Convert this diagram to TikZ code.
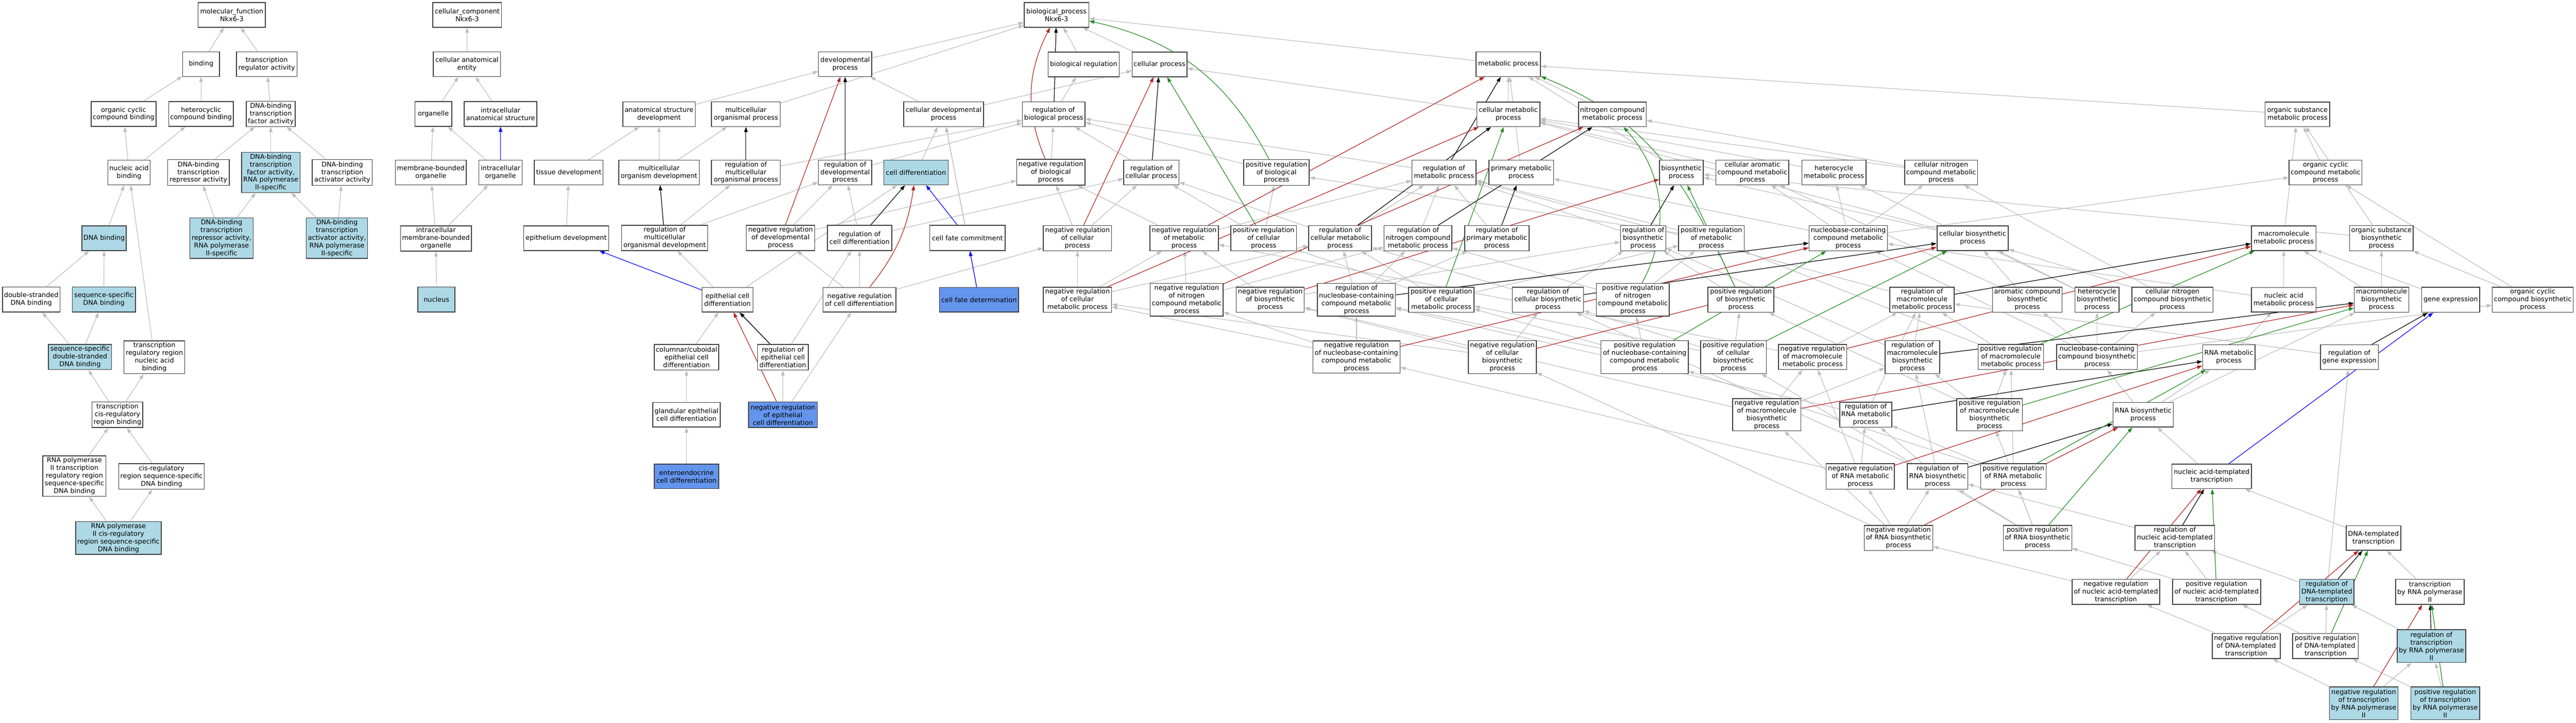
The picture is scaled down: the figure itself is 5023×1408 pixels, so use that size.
\documentclass[tikz,border=0pt]{standalone}
\usepackage{fontspec}
\setmainfont{DejaVu Sans}
\usetikzlibrary{arrows.meta}
\definecolor{ggray}{RGB}{190,190,190}
\definecolor{gored}{RGB}{178,34,34}
\definecolor{gogreen}{RGB}{34,139,34}
\definecolor{lblue}{RGB}{173,216,230}
\definecolor{cblue}{RGB}{100,149,237}
\pgfdeclarelayer{bg}\pgfdeclarelayer{edges}\pgfsetlayers{bg,edges,main}
\tikzset{
 box/.style={draw=black!75, line width=1.5pt, fill=white, inner xsep=3pt, inner ysep=1pt, align=center, font=\fontsize{12.9}{15}\selectfont},
 wh/.style={}, lb/.style={fill=lblue}, cb/.style={fill=cblue},
 goedge/.style={line width=1.2pt, -{Triangle[length=10pt,width=7pt]}},
 isaedge/.style={goedge, draw=ggray},
 regedge/.style={goedge, draw=black},
 negedge/.style={goedge, draw=gored},
 posedge/.style={goedge, draw=gogreen},
 partedge/.style={goedge, draw=blue},
}
\newcommand{\gonode}[7]{\node[box,#6,minimum width=#4pt,minimum height=#5pt] (#1) at (#2,#3) {#7};}
\begin{document}
\begin{tikzpicture}[x=1pt,y=-1pt]
\useasboundingbox (0,0) rectangle (5023,1408);
\begin{pgfonlayer}{bg}\fill[white] (0,0) rectangle (5023,1408);\end{pgfonlayer}
% molecular function
\gonode{mf}{452}{29}{131}{48}{wh}{molecular\_function\\Nkx6-3}
\gonode{bind}{392}{125}{72}{48}{wh}{binding}
\gonode{tra}{520}{125}{118}{48}{wh}{transcription\\regulator activity}
\gonode{occb}{241}{222}{126}{48}{wh}{organic cyclic\\compound binding}
\gonode{hccb}{392}{222}{126}{48}{wh}{heterocyclic\\compound binding}
\gonode{dbtf}{528}{222}{95}{49}{wh}{DNA-binding\\transcription\\factor activity}
\gonode{nab}{251.5}{336}{82}{48}{wh}{nucleic acid\\binding}
\gonode{dbtr}{387}{336}{120}{50}{wh}{DNA-binding\\transcription\\repressor activity}
\gonode{dbtf2}{528}{336}{114}{78}{lb}{DNA-binding\\transcription\\factor activity,\\RNA polymerase\\II-specific}
\gonode{dbta}{667.5}{336}{117}{50}{wh}{DNA-binding\\transcription\\activator activity}
\gonode{dnab}{203}{464}{86}{48}{lb}{DNA binding}
\gonode{dbtr2}{432}{464}{124}{79}{lb}{DNA-binding\\transcription\\repressor activity,\\RNA polymerase\\II-specific}
\gonode{dbta2}{657}{464}{120}{79}{lb}{DNA-binding\\transcription\\activator activity,\\RNA polymerase\\II-specific}
\gonode{dsdna}{61}{583.5}{112}{49}{wh}{double-stranded\\DNA binding}
\gonode{ssdna}{202.5}{583.5}{123}{49}{lb}{sequence-specific\\DNA binding}
\gonode{ssds}{156}{695.5}{123}{49}{lb}{sequence-specific\\double-stranded\\DNA binding}
\gonode{trrnab}{301}{696}{118.5}{64}{wh}{transcription\\regulatory region\\nucleic acid\\binding}
\gonode{tcrrb}{229}{808}{99}{50}{wh}{transcription\\cis-regulatory\\region binding}
\gonode{rp2trr}{145}{927.5}{123}{79}{wh}{RNA polymerase\\II transcription\\regulatory region\\sequence-specific\\DNA binding}
\gonode{crrss}{315}{928}{166}{50}{wh}{cis-regulatory\\region sequence-specific\\DNA binding}
\gonode{rp2crr}{231}{1048}{166}{64}{lb}{RNA polymerase\\II cis-regulatory\\region sequence-specific\\DNA binding}
% cellular component
\gonode{cc}{911}{29}{134}{48}{wh}{cellular\_component\\Nkx6-3}
\gonode{cae}{910.5}{125}{131}{48}{wh}{cellular anatomical\\entity}
\gonode{org}{845}{222}{72}{48}{wh}{organelle}
\gonode{ias}{976}{222}{142}{48}{wh}{intracellular\\anatomical structure}
\gonode{mbo}{840}{336}{138}{48}{wh}{membrane-bounded\\organelle}
\gonode{io}{976}{336}{84}{48}{wh}{intracellular\\organelle}
\gonode{imbo}{850}{464.5}{137.5}{49}{wh}{intracellular\\membrane-bounded\\organelle}
\gonode{nuc}{851}{583.5}{72.5}{49}{lb}{nucleus}
% biological process
\gonode{td}{1109}{336}{134}{48}{wh}{tissue development}
\gonode{ed}{1104}{464}{166}{48}{wh}{epithelium development}
\gonode{bp}{2060}{29}{126}{48}{wh}{biological\_process\\Nkx6-3}
\gonode{dev}{1648}{125}{104}{48}{wh}{developmental\\process}
\gonode{breg}{2113}{125.5}{138.7}{48}{wh}{biological regulation}
\gonode{cp}{2261}{125.5}{107}{48}{wh}{cellular process}
\gonode{mp}{2941}{125}{125.7}{48}{wh}{metabolic process}
\gonode{asd}{1285}{222.5}{141}{48}{wh}{anatomical structure\\development}
\gonode{mop}{1454.5}{222.5}{134}{48}{wh}{multicellular\\organismal process}
\gonode{cdp}{1840}{222.5}{155.5}{48}{wh}{cellular developmental\\process}
\gonode{rbp}{2054.7}{222.5}{122}{48}{wh}{regulation of\\biological process}
\gonode{cmp}{2941}{222.7}{123.2}{48}{wh}{cellular metabolic\\process}
\gonode{ncmp}{3144}{222.7}{132}{48}{wh}{nitrogen compound\\metabolic process}
\gonode{osmp}{4479.7}{222.7}{126}{48}{wh}{organic substance\\metabolic process}
\gonode{mod}{1285}{336}{157}{48}{wh}{multicellular\\organism development}
\gonode{rmop}{1454.5}{336}{134}{48}{wh}{regulation of\\multicellular\\organismal process}
\gonode{rdp}{1648}{336}{104}{48}{wh}{regulation of\\developmental\\process}
\gonode{cdiff}{1786}{336}{125.6}{48}{lb}{cell differentiation}
\gonode{nrbp}{2049}{335.6}{133}{50}{wh}{negative regulation\\of biological\\process}
\gonode{rcp}{2245}{336}{107.5}{48}{wh}{regulation of\\cellular process}
\gonode{prbp}{2489}{336}{127.7}{50}{wh}{positive regulation\\of biological\\process}
\gonode{rmp}{2815.6}{336}{125}{48}{wh}{regulation of\\metabolic process}
\gonode{pmp}{2966.4}{336}{126}{48}{wh}{primary metabolic\\process}
\gonode{bsp}{3278.6}{336}{85.6}{48}{wh}{biosynthetic\\process}
\gonode{camp}{3417}{336}{142}{48}{wh}{cellular aromatic\\compound metabolic\\process}
\gonode{hmp}{3576}{336}{125}{48}{wh}{heterocycle\\metabolic process}
\gonode{cncmp}{3785}{336}{142}{48}{wh}{cellular nitrogen\\compound metabolic\\process}
\gonode{ocmp}{4534.6}{336}{142}{48}{wh}{organic cyclic\\compound metabolic\\process}
\gonode{rmod}{1296}{463.5}{168}{49}{wh}{regulation of\\multicellular\\organismal development}
\gonode{nrdp}{1522}{463.5}{133.5}{49}{wh}{negative regulation\\of developmental\\process}
\gonode{rcd}{1676}{463.5}{125.5}{49}{wh}{regulation of\\cell differentiation}
\gonode{cfc}{1886.5}{463.5}{147}{49}{wh}{cell fate commitment}
\gonode{nrcp}{2101}{464}{133}{49}{wh}{negative regulation\\of cellular\\process}
\gonode{nrmp}{2309}{464}{134}{49}{wh}{negative regulation\\of metabolic\\process}
\gonode{prcp}{2464}{464}{128}{49}{wh}{positive regulation\\of cellular\\process}
\gonode{rcmp}{2613}{464}{122.5}{49}{wh}{regulation of\\cellular metabolic\\process}
\gonode{rncmp}{2765}{464}{131.7}{49}{wh}{regulation of\\nitrogen compound\\metabolic process}
\gonode{rpmp}{2918.7}{464}{125.7}{49}{wh}{regulation of\\primary metabolic\\process}
\gonode{rbsp}{3204}{464}{88.6}{49}{wh}{regulation of\\biosynthetic\\process}
\gonode{prmp}{3337}{464}{127.7}{49}{wh}{positive regulation\\of metabolic\\process}
\gonode{nbmp}{3604}{464}{152.7}{49}{wh}{nucleobase-containing\\compound metabolic\\process}
\gonode{cbsp}{3846.5}{464}{139}{48}{wh}{cellular biosynthetic\\process}
\gonode{mmp}{4453}{464}{126}{48}{wh}{macromolecule\\metabolic process}
\gonode{osbp}{4643.6}{464}{123}{49}{wh}{organic substance\\biosynthetic\\process}
\gonode{ecd}{1418.5}{584}{99}{48}{wh}{epithelial cell\\differentiation}
\gonode{nrcd}{1676}{584}{142}{48}{wh}{negative regulation\\of cell differentiation}
\gonode{cfd}{1909}{584}{154.6}{48}{cb}{cell fate determination}
\gonode{nrcmp}{2101}{584}{133}{49}{wh}{negative regulation\\of cellular\\metabolic process}
\gonode{nrncmp}{2314}{584}{141.5}{64}{wh}{negative regulation\\of nitrogen\\compound metabolic\\process}
\gonode{nrbsp}{2477}{584}{132.7}{49}{wh}{negative regulation\\of biosynthetic\\process}
\gonode{rnbmp}{2645}{584}{152}{64}{wh}{regulation of\\nucleobase-containing\\compound metabolic\\process}
\gonode{prcmp}{2810.5}{584}{127.7}{49}{wh}{positive regulation\\of cellular\\metabolic process}
\gonode{rcbsp}{3018.3}{584}{138.7}{49}{wh}{regulation of\\cellular biosynthetic\\process}
\gonode{prncmp}{3184}{584}{142}{64}{wh}{positive regulation\\of nitrogen\\compound metabolic\\process}
\gonode{prbsp}{3394.7}{584}{128.5}{49}{wh}{positive regulation\\of biosynthetic\\process}
\gonode{rmmp}{3747.6}{584}{125.7}{49}{wh}{regulation of\\macromolecule\\metabolic process}
\gonode{acbsp}{3953}{584}{136}{49}{wh}{aromatic compound\\biosynthetic\\process}
\gonode{hbsp}{4089}{584}{85.6}{49}{wh}{heterocycle\\biosynthetic\\process}
\gonode{cncbsp}{4236}{584}{158}{49}{wh}{cellular nitrogen\\compound biosynthetic\\process}
\gonode{namp}{4453}{584}{126}{48}{wh}{nucleic acid\\metabolic process}
\gonode{mbsp}{4643.8}{584}{106.5}{49}{wh}{macromolecule\\biosynthetic\\process}
\gonode{ge}{4778.6}{584}{113.3}{49}{wh}{gene expression}
\gonode{ocbsp}{4938.6}{584}{158}{49}{wh}{organic cyclic\\compound biosynthetic\\process}
\gonode{ccecd}{1338.6}{696}{125.7}{50}{wh}{columnar/cuboidal\\epithelial cell\\differentiation}
\gonode{reced}{1526.5}{696}{99}{50}{wh}{regulation of\\epithelial cell\\differentiation}
\gonode{nrnbmp}{2645}{695.5}{170}{63}{wh}{negative regulation\\of nucleobase-containing\\compound metabolic\\process}
\gonode{nrcbsp}{2929.4}{695.6}{133}{64}{wh}{negative regulation\\of cellular\\biosynthetic\\process}
\gonode{prnbmp}{3207}{695.6}{170}{64}{wh}{positive regulation\\of nucleobase-containing\\compound metabolic\\process}
\gonode{prcbsp}{3380}{695.6}{128}{64}{wh}{positive regulation\\of cellular\\biosynthetic\\process}
\gonode{nrmmp}{3534.5}{695.5}{133}{49}{wh}{negative regulation\\of macromolecule\\metabolic process}
\gonode{rmbsp}{3729}{695.6}{106.7}{64}{wh}{regulation of\\macromolecule\\biosynthetic\\process}
\gonode{prmmp}{3921}{695.5}{127.7}{49}{wh}{positive regulation\\of macromolecule\\metabolic process}
\gonode{nbbsp}{4089}{695.5}{157}{49}{wh}{nucleobase-containing\\compound biosynthetic\\process}
\gonode{rnamp}{4346}{695.8}{102}{48}{wh}{RNA metabolic\\process}
\gonode{rge}{4581}{695.8}{113}{48}{wh}{regulation of\\gene expression}
\gonode{gecd}{1338.6}{808}{131.7}{48}{wh}{glandular epithelial\\cell differentiation}
\gonode{nrecd}{1526.6}{808}{134}{50}{cb}{negative regulation\\of epithelial\\cell differentiation}
\gonode{nrmbsp}{3445}{808}{133.5}{63}{wh}{negative regulation\\of macromolecule\\biosynthetic\\process}
\gonode{rrnamp}{3638}{808}{101.5}{49}{wh}{regulation of\\RNA metabolic\\process}
\gonode{prmbsp}{3879.5}{808}{128}{63}{wh}{positive regulation\\of macromolecule\\biosynthetic\\process}
\gonode{rnabsp}{4179}{808}{117.5}{48}{wh}{RNA biosynthetic\\process}
\gonode{eecd}{1338.6}{928}{125.7}{48}{cb}{enteroendocrine\\cell differentiation}
\gonode{nrrnamp}{3627.5}{928}{133}{50}{wh}{negative regulation\\of RNA metabolic\\process}
\gonode{rrnabsp}{3778}{928}{118}{50}{wh}{regulation of\\RNA biosynthetic\\process}
\gonode{prrnamp}{3926}{928}{127.5}{50}{wh}{positive regulation\\of RNA metabolic\\process}
\gonode{natt}{4312.5}{928}{155}{48}{wh}{nucleic acid-templated\\transcription}
\gonode{nrrnabsp}{3702}{1048}{133.5}{49}{wh}{negative regulation\\of RNA biosynthetic\\process}
\gonode{prrnabsp}{3973}{1048}{133.5}{49}{wh}{positive regulation\\of RNA biosynthetic\\process}
\gonode{rnatt}{4240.7}{1048}{155.4}{49}{wh}{regulation of\\nucleic acid-templated\\transcription}
\gonode{dtt}{4628}{1048}{106.4}{48}{wh}{DNA-templated\\transcription}
\gonode{nrnatt}{4125.8}{1153}{170.5}{49}{wh}{negative regulation\\of nucleic acid-templated\\transcription}
\gonode{prnatt}{4322}{1153}{171.8}{49}{wh}{positive regulation\\of nucleic acid-templated\\transcription}
\gonode{rdtt}{4537}{1153}{106.4}{49}{lb}{regulation of\\DNA-templated\\transcription}
\gonode{trp2}{4738}{1153}{133.8}{49}{wh}{transcription\\by RNA polymerase\\II}
\gonode{nrdtt}{4380}{1258.5}{133}{49}{wh}{negative regulation\\of DNA-templated\\transcription}
\gonode{prdtt}{4534.6}{1258.5}{128}{49}{wh}{positive regulation\\of DNA-templated\\transcription}
\gonode{rtrp2}{4741}{1258.6}{133.8}{64}{lb}{regulation of\\transcription\\by RNA polymerase\\II}
\gonode{nrtrp2}{4609}{1370}{133.4}{64}{lb}{negative regulation\\of transcription\\by RNA polymerase\\II}
\gonode{prtrp2}{4768}{1370}{134}{64}{lb}{positive regulation\\of transcription\\by RNA polymerase\\II}

\begin{pgfonlayer}{edges}
\foreach \a/\b in {bind/mf, tra/mf, occb/bind, hccb/bind, dbtf/tra, nab/occb, nab/hccb, dbtr/dbtf, dbtf2/dbtf, dbta/dbtf, dnab/nab, trrnab/nab, dbtr2/dbtr, dbtr2/dbtf2, dbta2/dbtf2, dbta2/dbta, dsdna/dnab, ssdna/dnab, ssds/dsdna, ssds/ssdna, tcrrb/ssds, tcrrb/trrnab, rp2trr/tcrrb, crrss/tcrrb, rp2crr/rp2trr, rp2crr/crrss,
 cae/cc, org/cae, ias/cae, mbo/org, io/org, imbo/mbo, imbo/io, nuc/imbo,
 dev/bp, mop/bp, breg/bp, cp/bp, mp/bp, asd/dev, cdp/dev, cdp/cp, rbp/breg, mod/asd, mod/mop, td/asd, rmop/rbp, rdp/rbp, cdiff/cdp, cfc/cdp, cfd/cdp, ed/td, rmod/rmop, rmod/rdp, nrdp/rdp, nrdp/nrbp, rcd/rdp, rcd/rcp, ecd/cdiff, nrcd/rcd, nrcd/nrdp, nrcd/nrcp, ccecd/ecd, reced/rcd, reced/rmod, nrecd/reced, nrecd/nrcd, gecd/ccecd, eecd/gecd,
 nrbp/rbp, prbp/rbp, rcp/rbp, rmp/rbp, nrcp/nrbp, nrcp/rcp, prcp/prbp, prcp/rcp, nrmp/nrbp, nrmp/rmp, prmp/prbp, prmp/rmp, rcmp/rcp, rcmp/rmp, rncmp/rmp, rpmp/rmp, rbsp/rmp,
 nrcmp/nrcp, nrcmp/nrmp, nrcmp/rcmp, nrncmp/nrmp, nrncmp/rncmp, nrbsp/nrmp, nrbsp/rbsp, rnbmp/rcmp, rnbmp/rncmp, rnbmp/rpmp, prcmp/prcp, prcmp/rcmp, prcmp/prmp, rcbsp/rbsp, rcbsp/rcmp, prncmp/prmp, prncmp/rncmp, prbsp/prmp, prbsp/rbsp,
 nrnbmp/rnbmp, nrnbmp/nrcmp, nrnbmp/nrncmp, nrcbsp/nrbsp, nrcbsp/rcbsp, nrcbsp/nrcmp, prnbmp/rnbmp, prnbmp/prcmp, prnbmp/prncmp, prcbsp/prbsp, prcbsp/rcbsp, prcbsp/prcmp,
 rmmp/rmp, nrmmp/rmmp, nrmmp/nrmp, prmmp/rmmp, prmmp/prmp, rmbsp/rmmp, rmbsp/rbsp, rge/rmmp, nrmbsp/rmbsp, nrmbsp/nrmmp, nrmbsp/nrbsp, prmbsp/rmbsp, prmbsp/prmmp, prmbsp/prbsp,
 rrnamp/rnbmp, rrnamp/rmmp, nrrnamp/rrnamp, nrrnamp/nrmmp, nrrnamp/nrnbmp, prrnamp/rrnamp, prrnamp/prmmp, prrnamp/prnbmp, rrnabsp/rrnamp, rrnabsp/rmbsp, rrnabsp/rcbsp,
 nrrnabsp/rrnabsp, nrrnabsp/nrrnamp, nrrnabsp/nrmbsp, nrrnabsp/nrcbsp, prrnabsp/rrnabsp, prrnabsp/prrnamp, prrnabsp/prmbsp, prrnabsp/prcbsp,
 rnatt/rrnabsp, nrnatt/rnatt, nrnatt/nrrnabsp, prnatt/rnatt, prnatt/prrnabsp, rdtt/rnatt, rdtt/rge, nrdtt/rdtt, nrdtt/nrnatt, prdtt/rdtt, prdtt/prnatt, rtrp2/rdtt, nrtrp2/rtrp2, nrtrp2/nrdtt, prtrp2/rtrp2, prtrp2/prdtt,
 cmp/mp, ncmp/mp, pmp/mp, bsp/mp, osmp/mp, cmp/cp, camp/cmp, hmp/cmp, cncmp/cmp, cncmp/ncmp, ocmp/osmp, mmp/osmp, nbmp/pmp,
 nbmp/camp, nbmp/hmp, nbmp/cncmp, nbmp/ocmp, cbsp/bsp, cbsp/cmp, osbp/osmp, osbp/bsp, acbsp/cbsp, acbsp/camp, hbsp/cbsp, hbsp/hmp, cncbsp/cbsp, cncbsp/cncmp,
 namp/mmp, namp/nbmp, mbsp/mmp, mbsp/osbp, ge/mmp, ocbsp/ocmp, ocbsp/osbp, nbbsp/nbmp, nbbsp/acbsp, nbbsp/hbsp, nbbsp/cncbsp, nbbsp/ocbsp,
 rnamp/namp, rnabsp/rnamp, rnabsp/nbbsp, rnabsp/mbsp, natt/rnabsp, dtt/natt, trp2/dtt}
 \draw[isaedge] (\a) -- (\b);
\foreach \a/\b in {rbp/bp, rdp/dev, rmop/mop, rmod/mod, rcd/cdiff, reced/ecd, rcp/cp, rmp/mp, rcmp/cmp, rncmp/ncmp, rpmp/pmp, rbsp/bsp, rnbmp/nbmp, rcbsp/cbsp, rmmp/mmp, rmbsp/mbsp, rrnamp/rnamp, rrnabsp/rnabsp, rge/ge, rnatt/natt, rdtt/dtt, rtrp2/trp2}
 \draw[regedge] (\a) -- (\b);
\foreach \a/\b in {nrdp/dev, nrecd/ecd, nrcp/cp, nrmp/mp, nrcmp/cmp, nrncmp/ncmp, nrbsp/bsp, nrnbmp/nbmp, nrcbsp/cbsp, nrmmp/mmp, nrmbsp/mbsp, nrrnamp/rnamp, nrrnabsp/rnabsp, nrnatt/natt, nrdtt/dtt, nrtrp2/trp2}
 \draw[negedge] (\a) -- (\b);
\draw[negedge] (nrbp) to[bend left=25] (bp);
\draw[negedge] (nrcd) to[bend right=15] (cdiff);
\foreach \a/\b in {prcp/cp, prcmp/cmp, prbsp/bsp, prnbmp/nbmp, prcbsp/cbsp, prmmp/mmp, prmbsp/mbsp, prrnamp/rnamp, prrnabsp/rnabsp, prnatt/natt, prdtt/dtt, prtrp2/trp2}
 \draw[posedge] (\a) -- (\b);
\draw[posedge] (prbp) to[bend right=25] (bp);
\draw[posedge] (prmp) to[bend right=20] (mp);
\draw[posedge] (prncmp) to[bend right=35] (ncmp);
\foreach \a/\b in {io/ias, cfc/cdiff, cfd/cfc, ecd/ed, natt/ge}
 \draw[partedge] (\a) -- (\b);
\end{pgfonlayer}
\end{tikzpicture}
\end{document}
